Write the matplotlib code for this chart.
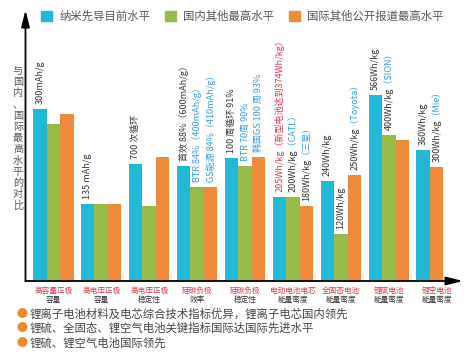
import numpy as np
import matplotlib
matplotlib.use('Agg')
import matplotlib.pyplot as plt
from matplotlib.patches import Rectangle
from matplotlib.transforms import Bbox

plt.rcParams['font.family'] = ['Noto Sans CJK SC', 'DejaVu Sans']

# ---- data (relative heights) ----
series = ['纳米先导目前水平', '国内其他最高水平', '国际其他公开报道最高水平']
colors = ['#20b8d5', '#95bb48', '#ee8b3b']
cat_top = ['高容量正极', '高电压正极', '高电压正极', '硅碳负极', '硅碳负极',
           '电动电池电芯', '全固态电池', '锂硫电池', '锂空电池']
cat_bot = ['容量', '容量', '稳定性', '效率', '稳定性',
           '能量密度', '能量密度', '能量密度', '能量密度']
nano = [172, 77, 117, 115, 123, 84, 100, 186, 131]
domestic = [157, 77, 75, 94, 115, 84, 47, 146, np.nan]
intl = [167, 77, 124, 94, 124, 75, 106, 141, 114]

DARK = '#333333'
BLUE = '#3d9be0'
RED = '#e8344e'
# (group, series) -> list of (text, colour) pieces, read bottom to top
notes = {
    (0, 0): [('300mAh/g', DARK)],
    (1, 0): [('135 mAh/g', DARK)],
    (2, 0): [('700 次循环', DARK)],
    (3, 0): [('首效 88%（600mAh/g）', DARK)],
    (3, 1): [('BTR 84%（400mAh/g）', BLUE)],
    (3, 2): [('GS能源 84%（410mAh/g）', BLUE)],
    (4, 0): [('100 周循环 91%', DARK)],
    (4, 1): [('BTR 70周 90%', BLUE)],
    (4, 2): [('韩国GS 100 周 93%', BLUE)],
    (5, 0): [('205Wh/kg（新型电池达到374Wh/kg）', RED)],
    (5, 1): [('200Wh/kg', DARK), ('（CATL）', BLUE)],
    (5, 2): [('180Wh/kg', DARK), ('（三星）', BLUE)],
    (6, 0): [('240Wh/kg', DARK)],
    (6, 1): [('120Wh/kg', DARK)],
    (6, 2): [('250Wh/kg', DARK), ('（Toyota）', BLUE)],
    (7, 0): [('566Wh/kg', DARK)],
    (7, 1): [('400Wh/kg', DARK), ('（SION）', BLUE)],
    (8, 0): [('360Wh/kg', DARK)],
    (8, 2): [('300Wh/kg', DARK), ('（Mie）', BLUE)],
}
bullets = ['锂离子电池材料及电芯综合技术指标优异，锂离子电芯国内领先',
           '锂硫、全固态、锂空气电池关键指标国际达国际先进水平',
           '锂硫、锂空气电池国际领先']
ylabel = '与国内、国际最高水平的对比'

W, H = 477, 355
fig = plt.figure(figsize=(W / 100, H / 100), dpi=100)
ax = fig.add_axes([25.5 / W, 74 / H, (463 - 25.5) / W, (281 - 10) / H])
ax.set_xlim(-2.06, 30.35)
ax.set_ylim(0, 271)
ax.axis('off')
renderer = fig.canvas.get_renderer()


def bar_note(x, h, parts):
    # whole string drawn once per colour, each copy clipped to its own piece
    kw = dict(xy=(x, h), xytext=(0, 3.5), textcoords='offset points',
              rotation=90, ha='center', va='bottom', fontsize=6.5)
    full = ''.join(p for p, _ in parts)
    cuts = [-1e4]
    acc = ''
    for p, _ in parts[:-1]:
        acc += p
        tmp = ax.annotate(acc, **kw)
        cuts.append(tmp.get_window_extent(renderer).y1 + 1)
        tmp.remove()
    cuts.append(1e4)
    for i, (_, col) in enumerate(parts):
        t = ax.annotate(full, color=col, **kw)
        if len(parts) > 1:
            t.set_clip_box(Bbox.from_extents(-1e4, cuts[i], 1e4, cuts[i + 1]))
            t.set_clip_on(True)


step = 3.55
values = [nano, domestic, intl]
for g in range(len(cat_top)):
    present = [s for s in range(3) if not np.isnan(values[s][g])]
    for slot, s in enumerate(present):
        x = g * step + slot - 1
        h = values[s][g]
        ax.bar(x, h, width=1.0, color=colors[s], linewidth=0)
        if (g, s) in notes:
            bar_note(x, h, notes[(g, s)])
    gx = g * step
    ax.annotate(cat_top[g], xy=(gx, 0), xycoords=('data', 'axes fraction'),
                xytext=(0, -4.5), textcoords='offset points', ha='center',
                va='top', fontsize=5.5, color='#e2364c')
    ax.annotate(cat_bot[g], xy=(gx, 0), xycoords=('data', 'axes fraction'),
                xytext=(0, -11), textcoords='offset points', ha='center',
                va='top', fontsize=5.5, color=DARK)

# axis arrows
arrow = dict(arrowstyle='-|>,head_length=1.0,head_width=0.25', color='k',
             lw=1.3, shrinkA=0, shrinkB=0, mutation_scale=10)
ax.annotate('', xy=(0, 1), xytext=(0, 0), xycoords='axes fraction',
            arrowprops=arrow, annotation_clip=False)
ax.annotate('', xy=(1, 0), xytext=(0, 0), xycoords='axes fraction',
            arrowprops=arrow, annotation_clip=False)

# legend
handles = [Rectangle((0, 0), 1, 1, color=c) for c in colors]
fig.legend(handles, series, loc='upper left', ncol=3,
           bbox_to_anchor=(41 / W, 1 - 11 / H), bbox_transform=fig.transFigure,
           frameon=False, fontsize=8.2, handlelength=1.0, handleheight=1.0,
           handletextpad=0.6, columnspacing=1.3, borderpad=0,
           borderaxespad=0, labelcolor='#555555')

# vertical y label, one upright character per row
for i, ch in enumerate(ylabel):
    fig.text(18 / W, 1 - (71 + 11.2 * i) / H, ch, ha='center', va='center',
             fontsize=7.3, color='#555555')

for i, b in enumerate(bullets):
    y = 1 - (314 + 14.5 * i) / H
    fig.text(17 / W, y, '●', color='#ee8b1f', fontsize=8, va='center')
    fig.text(30 / W, y, b, color='#444444', fontsize=8.2, va='center')

fig.savefig('out.png', dpi=100)
